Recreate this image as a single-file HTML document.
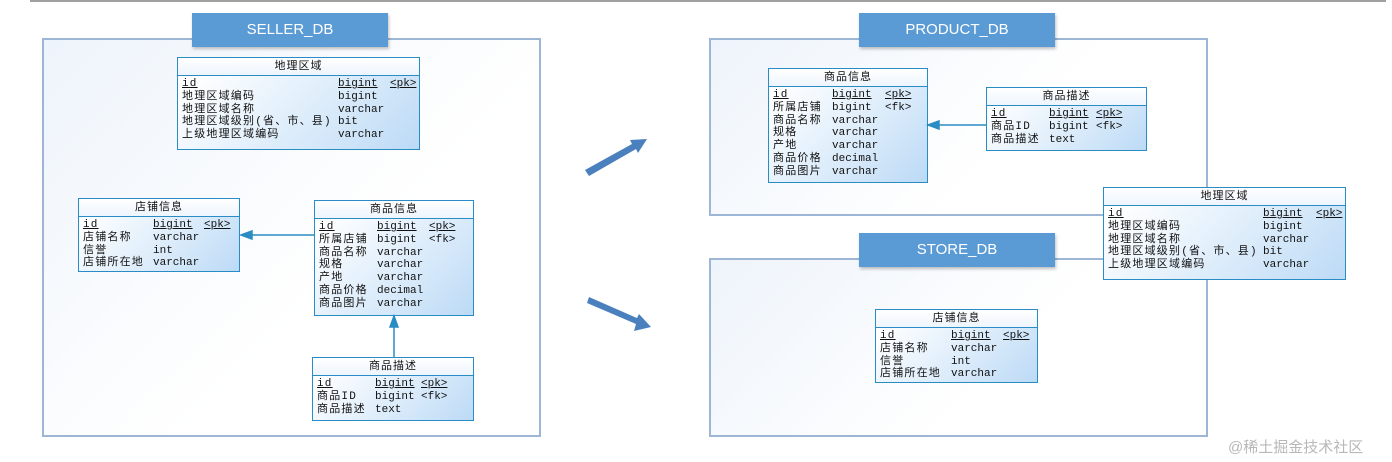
<!DOCTYPE html>
<html><head><meta charset="utf-8"><style>
body{margin:0;width:1392px;height:462px;background:#fff;position:relative;overflow:hidden;font-family:"Liberation Mono","Noto Sans CJK SC",monospace;}
.frame{position:absolute;border:2px solid #9db6d6;background:linear-gradient(135deg,#eef4fb 0%,#ffffff 60%);box-sizing:border-box;}
.title{position:absolute;background:#5b9bd5;color:#fff;font-family:"Liberation Sans",sans-serif;font-size:15px;text-align:center;line-height:34px;height:34px;box-shadow:1px 2px 3px rgba(0,0,0,.25);}
.t{position:absolute;border:1.5px solid #2a8cc4;box-sizing:border-box;background:linear-gradient(135deg,#ffffff 10%,#d3e7f9 70%,#bcdaf6 100%);font-size:11px;color:#111;}
.h{height:17px;border-bottom:1.5px solid #2a8cc4;background:linear-gradient(#fff,#eef5fd);text-align:center;line-height:17px;font-family:"Liberation Sans","Noto Sans CJK SC",sans-serif;font-size:11px;letter-spacing:1px;}
.r{position:relative;height:12.8px;line-height:12.8px;}
.r span{position:absolute;top:0;white-space:nowrap;}
.r span:first-child{letter-spacing:1.2px;}
.u{text-decoration:underline;}
.b{padding-top:2px;}
</style></head><body>
<div style="position:absolute;left:30px;top:0;width:1356px;height:2px;background:#a0a0a0"></div>

<div class="frame" style="left:42px;top:38px;width:499px;height:399px"></div>
<div class="title" style="left:192px;top:13px;width:196px">SELLER_DB</div>
<div class="frame" style="left:709px;top:38px;width:499px;height:178px"></div>
<div class="title" style="left:859px;top:13px;width:196px">PRODUCT_DB</div>
<div class="frame" style="left:709px;top:258px;width:499px;height:179px"></div>
<div class="title" style="left:859px;top:233px;width:196px">STORE_DB</div>

<div class="t" style="left:177px;top:57px;width:243px;height:93px"><div class="h">地理区域</div><div class="b">
<div class="r"><span class="u" style="left:4px">id</span><span class="u" style="left:160px">bigint</span><span class="u" style="left:212px">&lt;pk&gt;</span></div>
<div class="r"><span style="left:4px">地理区域编码</span><span style="left:160px">bigint</span></div>
<div class="r"><span style="left:4px">地理区域名称</span><span style="left:160px">varchar</span></div>
<div class="r"><span style="left:4px">地理区域级别(省、市、县)</span><span style="left:160px">bit</span></div>
<div class="r"><span style="left:4px">上级地理区域编码</span><span style="left:160px">varchar</span></div></div></div>

<div class="t" style="left:78px;top:198px;width:162px;height:74px"><div class="h">店铺信息</div><div class="b">
<div class="r"><span class="u" style="left:4px">id</span><span class="u" style="left:74px">bigint</span><span class="u" style="left:125px">&lt;pk&gt;</span></div>
<div class="r"><span style="left:4px">店铺名称</span><span style="left:74px">varchar</span></div>
<div class="r"><span style="left:4px">信誉</span><span style="left:74px">int</span></div>
<div class="r"><span style="left:4px">店铺所在地</span><span style="left:74px">varchar</span></div></div></div>

<div class="t" style="left:314px;top:200px;width:160px;height:116px"><div class="h">商品信息</div><div class="b">
<div class="r"><span class="u" style="left:4px">id</span><span class="u" style="left:62px">bigint</span><span class="u" style="left:114px">&lt;pk&gt;</span></div>
<div class="r"><span style="left:4px">所属店铺</span><span style="left:62px">bigint</span><span style="left:114px">&lt;fk&gt;</span></div>
<div class="r"><span style="left:4px">商品名称</span><span style="left:62px">varchar</span></div>
<div class="r"><span style="left:4px">规格</span><span style="left:62px">varchar</span></div>
<div class="r"><span style="left:4px">产地</span><span style="left:62px">varchar</span></div>
<div class="r"><span style="left:4px">商品价格</span><span style="left:62px">decimal</span></div>
<div class="r"><span style="left:4px">商品图片</span><span style="left:62px">varchar</span></div></div></div>

<div class="t" style="left:312px;top:357px;width:162px;height:64px"><div class="h">商品描述</div><div class="b">
<div class="r"><span class="u" style="left:4px">id</span><span class="u" style="left:62px">bigint</span><span class="u" style="left:108px">&lt;pk&gt;</span></div>
<div class="r"><span style="left:4px">商品ID</span><span style="left:62px">bigint</span><span style="left:108px">&lt;fk&gt;</span></div>
<div class="r"><span style="left:4px">商品描述</span><span style="left:62px">text</span></div></div></div>

<div class="t" style="left:768px;top:68px;width:160px;height:115px"><div class="h">商品信息</div><div class="b">
<div class="r"><span class="u" style="left:4px">id</span><span class="u" style="left:63px">bigint</span><span class="u" style="left:116px">&lt;pk&gt;</span></div>
<div class="r"><span style="left:4px">所属店铺</span><span style="left:63px">bigint</span><span style="left:116px">&lt;fk&gt;</span></div>
<div class="r"><span style="left:4px">商品名称</span><span style="left:63px">varchar</span></div>
<div class="r"><span style="left:4px">规格</span><span style="left:63px">varchar</span></div>
<div class="r"><span style="left:4px">产地</span><span style="left:63px">varchar</span></div>
<div class="r"><span style="left:4px">商品价格</span><span style="left:63px">decimal</span></div>
<div class="r"><span style="left:4px">商品图片</span><span style="left:63px">varchar</span></div></div></div>

<div class="t" style="left:986px;top:87px;width:161px;height:64px"><div class="h">商品描述</div><div class="b">
<div class="r"><span class="u" style="left:4px">id</span><span class="u" style="left:62px">bigint</span><span class="u" style="left:109px">&lt;pk&gt;</span></div>
<div class="r"><span style="left:4px">商品ID</span><span style="left:62px">bigint</span><span style="left:109px">&lt;fk&gt;</span></div>
<div class="r"><span style="left:4px">商品描述</span><span style="left:62px">text</span></div></div></div>

<div class="t" style="left:1103px;top:187px;width:243px;height:93px"><div class="h">地理区域</div><div class="b">
<div class="r"><span class="u" style="left:4px">id</span><span class="u" style="left:159px">bigint</span><span class="u" style="left:212px">&lt;pk&gt;</span></div>
<div class="r"><span style="left:4px">地理区域编码</span><span style="left:159px">bigint</span></div>
<div class="r"><span style="left:4px">地理区域名称</span><span style="left:159px">varchar</span></div>
<div class="r"><span style="left:4px">地理区域级别(省、市、县)</span><span style="left:159px">bit</span></div>
<div class="r"><span style="left:4px">上级地理区域编码</span><span style="left:159px">varchar</span></div></div></div>

<div class="t" style="left:875px;top:309px;width:163px;height:74px"><div class="h">店铺信息</div><div class="b">
<div class="r"><span class="u" style="left:4px">id</span><span class="u" style="left:75px">bigint</span><span class="u" style="left:127px">&lt;pk&gt;</span></div>
<div class="r"><span style="left:4px">店铺名称</span><span style="left:75px">varchar</span></div>
<div class="r"><span style="left:4px">信誉</span><span style="left:75px">int</span></div>
<div class="r"><span style="left:4px">店铺所在地</span><span style="left:75px">varchar</span></div></div></div>

<svg width="1392" height="462" style="position:absolute;left:0;top:0">
<g stroke="#2a8cc4" stroke-width="1.5" fill="#2a8cc4">
<line x1="314" y1="235" x2="241" y2="235"/><polygon points="241,235 252,231 252,239"/>
<line x1="394" y1="357" x2="394" y2="316"/><polygon points="394,316 390,327 398,327"/>
<line x1="986" y1="125" x2="928" y2="125"/><polygon points="928,125 939,121 939,129"/>
</g>
<g fill="#4a80bd">
<polygon points="585,170 632,144 630,140 647,139 638,153 636,149 589,176"/>
<polygon points="589,297 637,318 639,314 651,327 634,331 636,324 587,303"/>
</g>
</svg>
<div style="position:absolute;left:1228px;top:436px;font-family:'Liberation Sans','Noto Sans CJK SC',sans-serif;font-size:15px;color:#b8b8b8">@稀土掘金技术社区</div>
</body></html>
